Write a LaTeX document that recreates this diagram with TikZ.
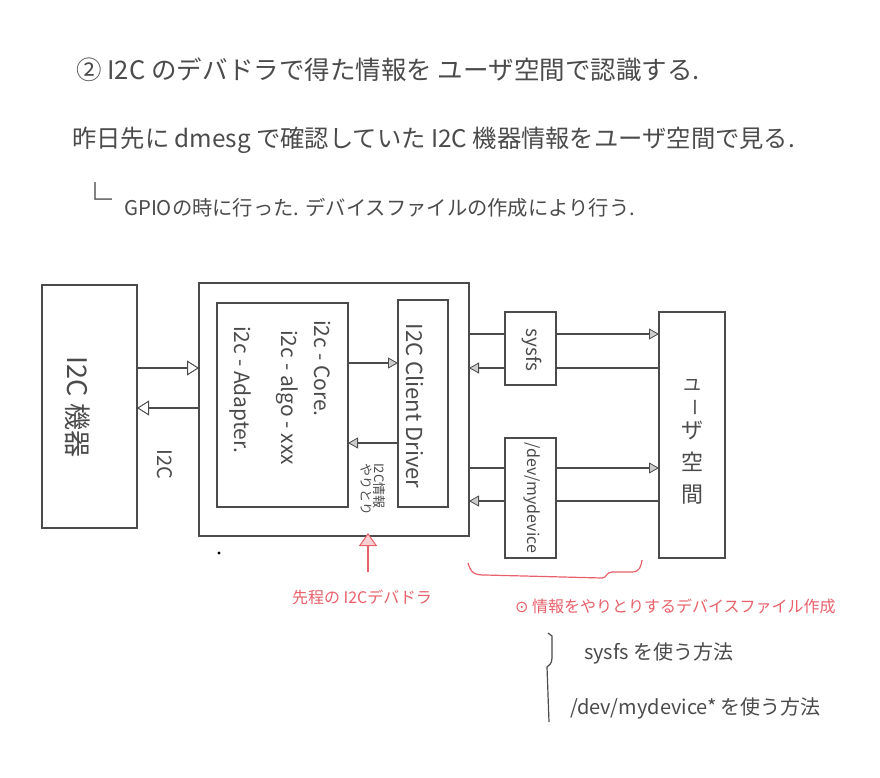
\documentclass[tikz,border=0pt]{standalone}
\usepackage{fontspec}
\setmainfont{Noto Sans CJK JP}
\newfontfamily\djv{DejaVu Sans}
\usetikzlibrary{arrows.meta,calc}
\definecolor{ink}{RGB}{75,75,75}
\definecolor{redink}{RGB}{232,96,106}
\newcommand{\fs}[1]{\fontsize{#1}{#1}\selectfont}
\begin{document}
\begin{tikzpicture}[x=1pt,y=-1pt,
  box/.style={draw=ink,line width=1.4pt,rectangle,inner sep=0pt,outer sep=0pt,anchor=north west},
  wire/.style={draw=ink,line width=1.2pt},
  hd/.style={-{Triangle[open,length=12pt,width=15pt,line width=1pt]}},
  hh/.style={-{Triangle[length=10pt,width=11pt,fill=gray!40,line width=0.8pt]}},
  txt/.style={text=ink,inner sep=0pt},
  rtxt/.style={text=redink,inner sep=0pt},
]
\useasboundingbox[fill=white] (0,0) rectangle (880,778);

% heading text
\node[txt,anchor=west,font=\fs{25.5}] (l1) at (76,70) {② I2C のデバドラで得た情報を ユーザ空間で認識する.};
\node[txt,anchor=west,font=\fs{24.3}] (l2) at (72,140) {昨日先に dmesg で確認していた I2C 機器情報をユーザ空間で見る.};
\node[txt,anchor=west,font=\fs{34}] (l3a) at (78,198) {└};
\node[txt,anchor=west,font=\fs{20.3}] (l3) at (124,208) {GPIOの時に行った. デバイスファイルの作成により行う.};

% boxes
\node[box,minimum width=95pt,minimum height=243pt] (dev) at (42,285) {};
\node[box,minimum width=270pt,minimum height=253pt] (outer) at (199,283) {};
\node[box,minimum width=131pt,minimum height=204pt] (core) at (217,303) {};
\node[box,minimum width=50pt,minimum height=207pt] (client) at (398,300) {};
\node[box,minimum width=51pt,minimum height=73pt] (sysfs) at (505,312) {};
\node[box,minimum width=51pt,minimum height=120pt] (mydev) at (505,438) {};
\node[box,minimum width=66pt,minimum height=246pt] (user) at (659,312) {};

% box texts
\node[txt,rotate=-90,font=\fs{27}] (devt) at (78,407) {I2C 機器};
\node[txt,rotate=-90,font=\fs{20}] (i2clbl) at (165,464) {I2C};
\node[txt,rotate=-90,anchor=south west,font=\fs{21}] (c1) at (314,320) {i2c - Core.};
\node[txt,rotate=-90,anchor=south west,font=\fs{21}] (c2) at (276,330) {i2c - algo - xxx};
\node[txt,rotate=-90,anchor=south west,font=\fs{21}] (c3) at (229,326) {i2c - Adapter.};
\node[txt,rotate=-90,font=\fs{22}] (clientt) at (415,406) {I2C Client Driver};
\node[txt,rotate=-90,align=left,font=\fs{13}] (info) at (373,489) {I2C情報\\やりとり};
\node[txt,rotate=-90,font=\fs{19}] (sysfst) at (532,350) {sysfs};
\node[txt,rotate=-90,font=\fs{16}] (mydevt) at (532,498) {/dev/mydevice};
\node[txt,font=\fs{18}] (u1) at (692,385) {ユ};
\node[txt,rotate=-90,font=\fs{18}] (u2) at (692,407) {ー};
\node[txt,font=\fs{22}] (u3) at (692,430) {ザ};
\node[txt,font=\fs{22}] (u4) at (692,462) {空};
\node[txt,font=\fs{22}] (u5) at (692,495) {間};

% connectors
\draw[wire,hd] (dev.east |- 0,368) -- (outer.west |- 0,368);
\draw[wire,hd] (outer.west |- 0,408) -- (dev.east |- 0,408);
\draw[wire,hh] (core.east |- 0,363) -- (client.west |- 0,363);
\draw[wire,hh] (client.west |- 0,443) -- (core.east |- 0,443);

\draw[wire] (outer.east |- 0,334) -- (sysfs.west |- 0,334);
\draw[wire,hh] (sysfs.east |- 0,334) -- (user.west |- 0,334);
\draw[wire] (user.west |- 0,368) -- (sysfs.east |- 0,368);
\draw[wire,hh] (sysfs.west |- 0,368) -- (outer.east |- 0,368);

\draw[wire] (outer.east |- 0,468) -- (mydev.west |- 0,468);
\draw[wire,hh] (mydev.east |- 0,468) -- (user.west |- 0,468);
\draw[wire] (user.west |- 0,501) -- (mydev.east |- 0,501);
\draw[wire,hh] (mydev.west |- 0,501) -- (outer.east |- 0,501);

% dot
\fill[black] (219,553) circle (1.6);

% red annotation
\coordinate (rtail) at (368,572);
\coordinate (rtip) at (368,533);
\draw[redink,line width=1.2pt,-{Triangle[length=13pt,width=18pt,fill=redink!30,line width=1pt]}] (rtail) -- (rtip);
\node[rtxt,font=\fs{16}] (redlbl) at (362,597) {先程の I2Cデバドラ};
\draw[redink,line width=1.2pt] (468,563) .. controls (471,573) and (474,575) .. (485,575) -- (602,578) .. controls (607,578) and (606,572) .. (612,572) -- (632,572) .. controls (640,572) and (641,566) .. (642,560);
\node[rtxt,anchor=west,font=\fs{16}] (redhdr) at (515,606) {{\djv ⊙} 情報をやりとりするデバイスファイル作成};

% bottom notes
\draw[ink,line width=1.2pt] (548,633) -- (552,636) -- (552,658) .. controls (552,664) and (549,665) .. (547,667) -- (549,722);
\node[txt,anchor=west,font=\fs{20}] (n1) at (584,653) {sysfs を使う方法};
\node[txt,anchor=west,font=\fs{20}] (n2) at (570,708) {/dev/mydevice* を使う方法};
\end{tikzpicture}
\end{document}
